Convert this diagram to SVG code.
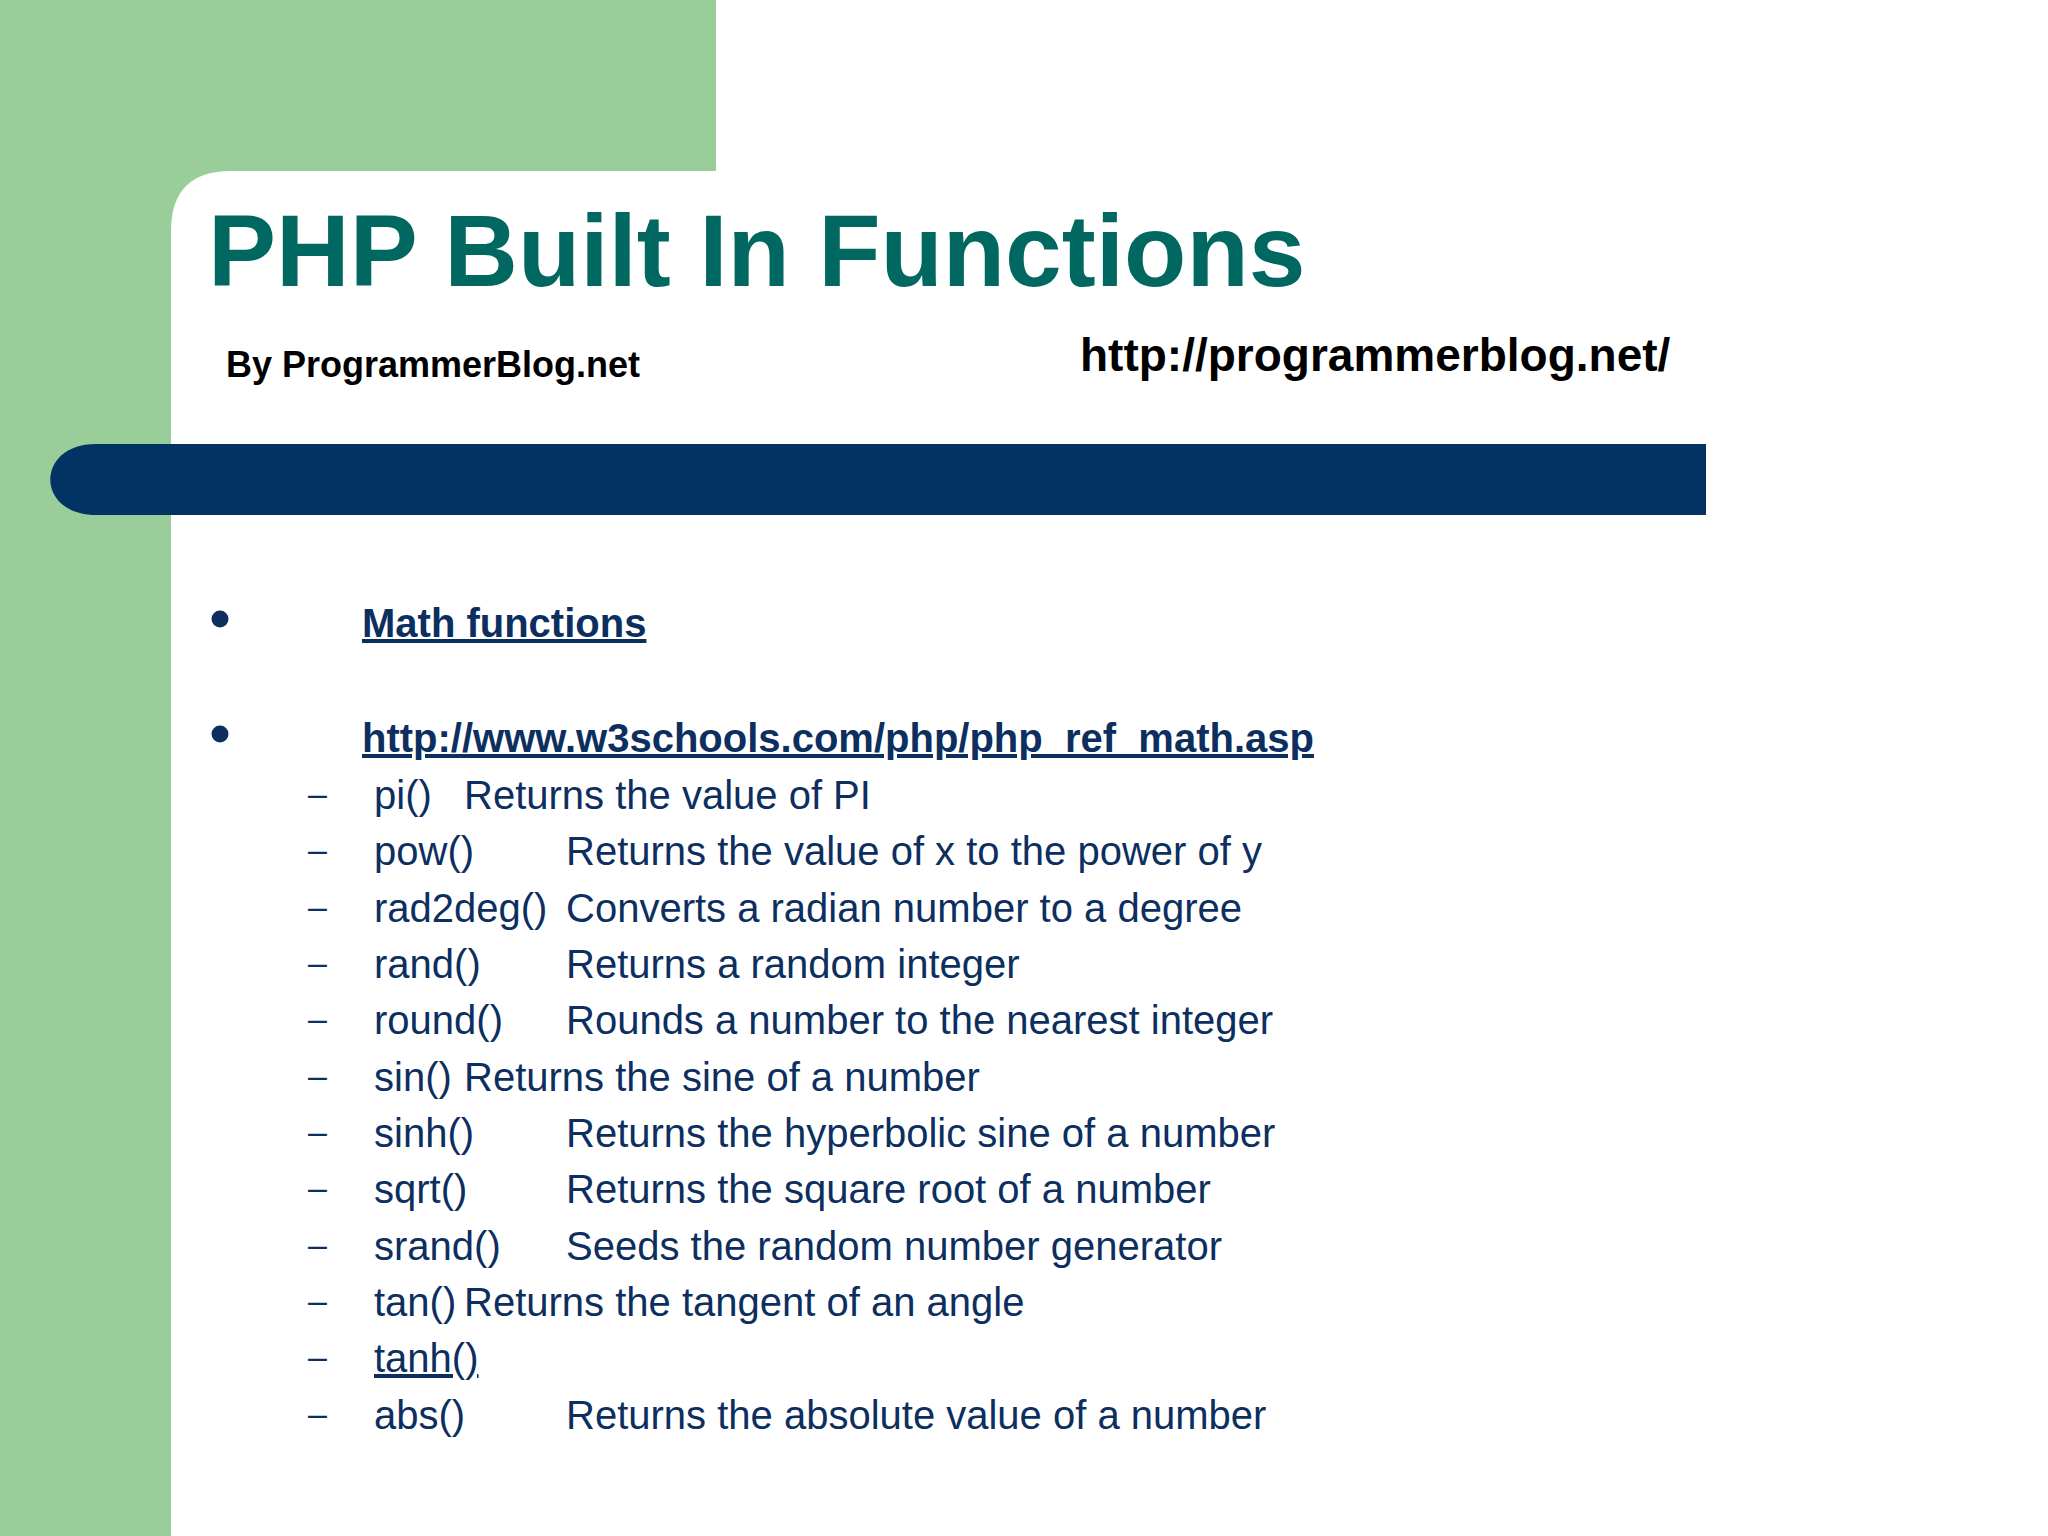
<svg xmlns="http://www.w3.org/2000/svg" width="2048" height="1536" viewBox="0 0 2048 1536">
<style>
.title{font-family:"Liberation Sans",Arial,sans-serif;font-weight:bold;fill:#006861}
.hdr{font-family:"Liberation Sans",Arial,sans-serif;font-weight:bold;fill:#000}
.bl{font-family:"Liberation Sans",Arial,sans-serif;font-weight:bold;font-size:40px;fill:#0d2f5f;text-decoration:underline}
.it{font-family:"Liberation Sans",Arial,sans-serif;font-size:40px;fill:#0d2f5f}
.dash{font-family:"Liberation Sans",Arial,sans-serif;font-size:34px;fill:#0d2f5f}
</style>
<rect x="0" y="0" width="2048" height="1536" fill="#ffffff"/>
<g id="background">
<rect x="0" y="0" width="716" height="230" fill="#99cd99"/>
<rect x="0" y="0" width="171" height="1536" fill="#99cd99"/>
<path d="M171,1536 L171,231 Q171,171 231,171 L716,171 L716,230 L2048,230 L2048,1536 Z" fill="#ffffff"/>
<rect x="716" y="0" width="1332" height="240" fill="#ffffff"/>
</g>
<g id="bar">
<path d="M1706,444 L96,444 C35,444 35,515 96,515 L1706,515 Z" fill="#033363"/>
</g>
<g id="title">
<text class="title" x="208" y="286" font-size="102">PHP Built In Functions</text>
</g>
<g id="byline">
<text class="hdr" x="226" y="377" font-size="36">By ProgrammerBlog.net</text>
</g>
<g id="site">
<text class="hdr" x="1080" y="371" font-size="46">http://programmerblog.net/</text>
</g>
<g id="bullets">
<circle cx="220" cy="619" r="8.5" fill="#0d2f5f"/>
<text class="bl" x="362" y="637">Math functions</text>
<circle cx="220" cy="734" r="8.5" fill="#0d2f5f"/>
<text class="bl" x="362" y="752">http://www.w3schools.com/php/php_ref_math.asp</text>
</g>
<g id="items">
<text class="dash" x="308" y="805">–</text>
<text class="it" x="374" y="809">pi()</text>
<text class="it" x="464" y="809">Returns the value of PI</text>
<text class="dash" x="308" y="861">–</text>
<text class="it" x="374" y="865">pow()</text>
<text class="it" x="566" y="865">Returns the value of x to the power of y</text>
<text class="dash" x="308" y="918">–</text>
<text class="it" x="374" y="922">rad2deg()</text>
<text class="it" x="566" y="922">Converts a radian number to a degree</text>
<text class="dash" x="308" y="974">–</text>
<text class="it" x="374" y="978">rand()</text>
<text class="it" x="566" y="978">Returns a random integer</text>
<text class="dash" x="308" y="1030">–</text>
<text class="it" x="374" y="1034">round()</text>
<text class="it" x="566" y="1034">Rounds a number to the nearest integer</text>
<text class="dash" x="308" y="1087">–</text>
<text class="it" x="374" y="1091">sin()</text>
<text class="it" x="464" y="1091">Returns the sine of a number</text>
<text class="dash" x="308" y="1143">–</text>
<text class="it" x="374" y="1147">sinh()</text>
<text class="it" x="566" y="1147">Returns the hyperbolic sine of a number</text>
<text class="dash" x="308" y="1199">–</text>
<text class="it" x="374" y="1203">sqrt()</text>
<text class="it" x="566" y="1203">Returns the square root of a number</text>
<text class="dash" x="308" y="1256">–</text>
<text class="it" x="374" y="1260">srand()</text>
<text class="it" x="566" y="1260">Seeds the random number generator</text>
<text class="dash" x="308" y="1312">–</text>
<text class="it" x="374" y="1316">tan()</text>
<text class="it" x="464" y="1316">Returns the tangent of an angle</text>
<text class="dash" x="308" y="1368">–</text>
<text class="it" x="374" y="1372" text-decoration="underline">tanh()</text>
<text class="dash" x="308" y="1425">–</text>
<text class="it" x="374" y="1429">abs()</text>
<text class="it" x="566" y="1429">Returns the absolute value of a number</text>
</g>
</svg>
